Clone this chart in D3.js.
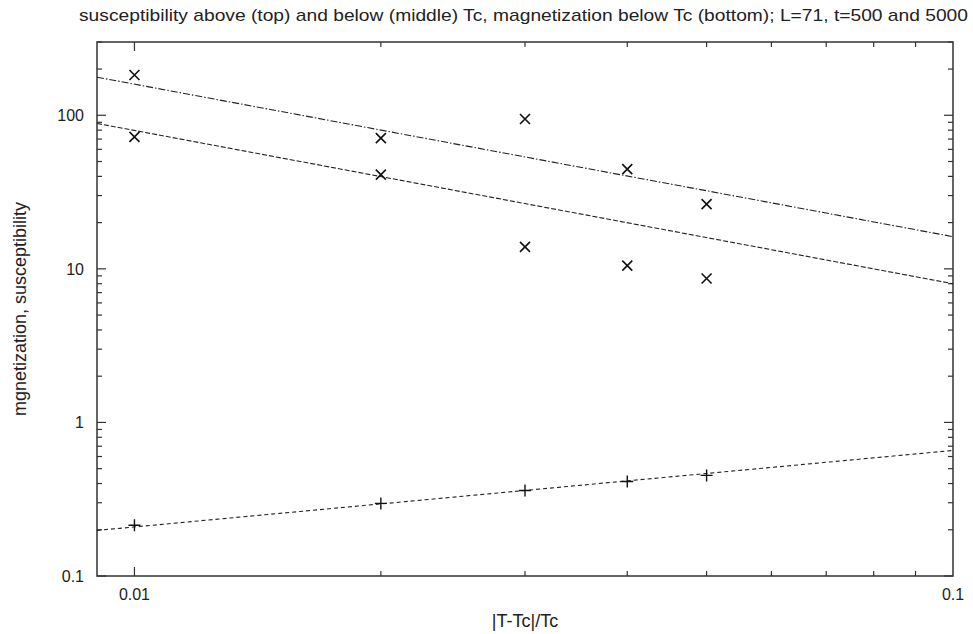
<!DOCTYPE html>
<html>
<head>
<meta charset="utf-8">
<script src="https://cdn.jsdelivr.net/npm/d3@7"></script>
<style>
body { margin: 0; background: #fff; }
text { font-family: "Liberation Sans", Arial, sans-serif; fill: #222; }
</style>
</head>
<body>
<div id="chart"></div>
<script>
// data
const xs = [0.01, 0.02, 0.03, 0.04, 0.05];
const suscAbove = [183, 71, 94.6, 44.6, 26.4];
const suscBelow = [72.3, 41.1, 13.9, 10.5, 8.66];
const magnet = [0.214, 0.297, 0.36, 0.412, 0.452];

// fitted lines, endpoints at the plot edges
const fitX = [0.009, 0.1];
const fitAbove = [177, 16.2];
const fitBelow = [88.5, 8.0];
const fitMagnet = [0.198, 0.657];

const xTickLabels = [0.01, 0.1];
const yTickLabels = [0.1, 1, 10, 100];

const margin = {top: 42, right: 20, bottom: 58, left: 97};
const W = 973, H = 634;
const width = W - margin.left - margin.right,
    height = H - margin.top - margin.bottom;

const svg = d3.select('#chart').append('svg')
    .attr('width', W)
    .attr('height', H);

const g = svg.append('g')
    .attr('transform', `translate(${margin.left}, ${margin.top})`);

const xScale = d3.scaleLog()
    .domain([0.009, 0.1])
    .range([0, width]);

const yScale = d3.scaleLog()
    .domain([0.1, 300])
    .range([height, 0]);

// minor tick values
const xMinor = d3.range(1, 10).map(d => d * 0.01).filter(d => d >= 0.009);
const yMinor = [];
[0.1, 1, 10, 100].forEach(dec => {
    for (let k = 1; k < 10; k++) {
        const v = dec * k;
        if (v <= 300) yMinor.push(v);
    }
});

const axisColor = '#333';

// ticks on all four sides, pointing inward
const ticks = g.append('g').attr('stroke', axisColor).attr('stroke-width', 1.2);

xMinor.forEach(v => {
    const len = xTickLabels.includes(+v.toFixed(3)) ? 9 : 5;
    const x = xScale(v);
    ticks.append('line').attr('x1', x).attr('x2', x).attr('y1', height).attr('y2', height - len);
    ticks.append('line').attr('x1', x).attr('x2', x).attr('y1', 0).attr('y2', len);
});

yMinor.forEach(v => {
    const major = yTickLabels.some(t => Math.abs(t - v) < 1e-9);
    const len = major ? 9 : 5;
    const y = yScale(v);
    ticks.append('line').attr('x1', 0).attr('x2', len).attr('y1', y).attr('y2', y);
    ticks.append('line').attr('x1', width).attr('x2', width - len).attr('y1', y).attr('y2', y);
});

// frame
g.append('rect')
    .attr('width', width)
    .attr('height', height)
    .attr('fill', 'none')
    .attr('stroke', axisColor)
    .attr('stroke-width', 1.5);

// tick labels
g.selectAll('.xlab')
    .data(xTickLabels)
    .enter()
    .append('text')
    .attr('class', 'xlab')
    .attr('x', d => xScale(d))
    .attr('y', height + 24)
    .attr('text-anchor', 'middle')
    .style('font-size', '16px')
    .text(d => d);

g.selectAll('.ylab')
    .data(yTickLabels)
    .enter()
    .append('text')
    .attr('class', 'ylab')
    .attr('x', -13)
    .attr('y', d => yScale(d) + 6)
    .attr('text-anchor', 'end')
    .style('font-size', '16px')
    .text(d => d);

// fit lines
const line = d3.line()
    .x(d => xScale(d[0]))
    .y(d => yScale(d[1]));

const fits = [
    {vals: fitAbove, dash: '7,2,1.5,2'},
    {vals: fitBelow, dash: '5,2'},
    {vals: fitMagnet, dash: '4,3'}
];

g.selectAll('.fit')
    .data(fits)
    .enter()
    .append('path')
    .attr('class', 'fit')
    .attr('d', d => line(fitX.map((x, i) => [x, d.vals[i]])))
    .attr('fill', 'none')
    .attr('stroke', '#222')
    .attr('stroke-width', 1.1)
    .attr('stroke-dasharray', d => d.dash);

// cross markers for susceptibility
const cross = 5;
const suscPts = xs.map((x, i) => [x, suscAbove[i]]).concat(xs.map((x, i) => [x, suscBelow[i]]));
g.selectAll('.cross')
    .data(suscPts)
    .enter()
    .append('path')
    .attr('class', 'cross')
    .attr('d', d => {
        const x = xScale(d[0]), y = yScale(d[1]);
        return `M${x - cross},${y - cross}L${x + cross},${y + cross}M${x - cross},${y + cross}L${x + cross},${y - cross}`;
    })
    .attr('stroke', '#111')
    .attr('stroke-width', 1.6);

// plus markers for magnetization
const plus = 6;
g.selectAll('.plus')
    .data(xs.map((x, i) => [x, magnet[i]]))
    .enter()
    .append('path')
    .attr('class', 'plus')
    .attr('d', d => {
        const x = xScale(d[0]), y = yScale(d[1]);
        return `M${x - plus},${y}L${x + plus},${y}M${x},${y - plus}L${x},${y + plus}`;
    })
    .attr('stroke', '#111')
    .attr('stroke-width', 1.4);

// title and axis labels
svg.append('text')
    .attr('x', 79)
    .attr('y', 21)
    .attr('textLength', 889)
    .attr('lengthAdjust', 'spacingAndGlyphs')
    .style('font-size', '17px')
    .text('susceptibility above (top) and below (middle) Tc, magnetization below Tc (bottom); L=71, t=500 and 5000');

svg.append('text')
    .attr('x', margin.left + width / 2)
    .attr('y', 627)
    .attr('text-anchor', 'middle')
    .style('font-size', '18px')
    .text('|T-Tc|/Tc');

svg.append('text')
    .attr('transform', `translate(26, ${margin.top + height / 2}) rotate(-90)`)
    .attr('text-anchor', 'middle')
    .style('font-size', '18px')
    .text('mgnetization, susceptibility');
</script>
</body>
</html>
